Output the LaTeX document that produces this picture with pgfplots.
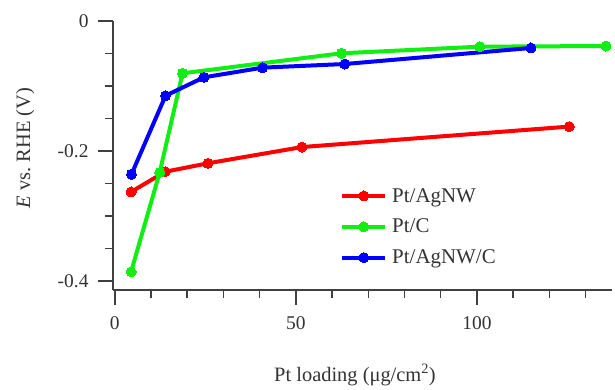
\documentclass[border=0pt]{standalone}
\usepackage{pgfplots}
\pgfplotsset{compat=1.18}
\usepackage{fontspec}
\setmainfont{Liberation Serif}
\definecolor{txt}{HTML}{333333}
\definecolor{ax}{HTML}{404040}
\definecolor{cr}{HTML}{FF0000}
\definecolor{cg}{HTML}{11EE11}
\definecolor{cb}{HTML}{0000FF}
\begin{document}
\begin{tikzpicture}
\useasboundingbox (0,0) rectangle (615bp,390bp);
\begin{axis}[
  at={(113bp,100bp)}, anchor=south west,
  scale only axis, width=499bp, height=269bp,
  xmin=-0.5, xmax=137.3, ymin=-0.414, ymax=0,
  axis x line*=bottom, axis y line*=left,
  axis line style={ax, line width=1.5bp},
  every tick/.style={ax, line width=1.5bp},
  tick align=outside,
  major tick length=15bp, minor tick length=8bp,
  xtick={0,50,100}, minor xtick={10,20,30,40,60,70,80,90,110,120,130},
  ytick={0,-0.2,-0.4}, minor ytick={-0.05,-0.1,-0.15,-0.25,-0.3,-0.35},
  /pgf/number format/assume math mode=true,
  yticklabels={0,{-0.2},{-0.4}},
  xticklabels={0,50,100},
  tick label style={font=\fontsize{19.5}{22}\selectfont, text=txt},
  xticklabel style={yshift=-8bp},
  yticklabel style={xshift=-6bp},
  xlabel={Pt loading (μg/cm\textsuperscript{2})},
  ylabel={\textit{E} vs.\ RHE (V)},
  label style={font=\fontsize{20.5}{24}\selectfont, text=txt},
  xlabel style={at={(axis description cs:0.485,-0.316)}, anchor=center},
  ylabel style={at={(axis description cs:-0.176,0.528)}, anchor=center, rotate=0},
  legend style={draw=none, fill=none, at={(axis description cs:0.455,0.235)}, anchor=west,
    font=\fontsize{21}{24}\selectfont, text=txt, row sep=11.5bp, inner sep=0pt,
    nodes={inner xsep=5bp}},
  legend cell align=left,
  legend image code/.code={\draw[mark repeat=2,mark phase=2,#1] plot coordinates {(0bp,0bp)(21.5bp,0bp)(43bp,0bp)};},
  every axis plot/.append style={line width=4bp, mark=*, mark size=5bp},
  clip=false,
]
\addplot[cr, mark options={fill=cr, draw=cr, line width=0pt}] coordinates {
 (4.5,-0.263) (13.9,-0.232) (25.7,-0.219) (51.7,-0.194) (125.5,-0.1625)};
\addlegendentry{Pt/AgNW}
\addplot[cg, mark options={fill=cg, draw=cg, line width=0pt}] coordinates {
 (4.5,-0.386) (12.4,-0.233) (18.7,-0.0805) (62.6,-0.0497) (100.8,-0.0395) (135.6,-0.0385)};
\addlegendentry{Pt/C}
\addplot[cb, mark options={fill=cb, draw=cb, line width=0pt}] coordinates {
 (4.6,-0.236) (14.0,-0.115) (24.6,-0.0867) (40.8,-0.0718) (63.5,-0.0662) (114.9,-0.0415)};
\addlegendentry{Pt/AgNW/C}
\end{axis}
\end{tikzpicture}
\end{document}
